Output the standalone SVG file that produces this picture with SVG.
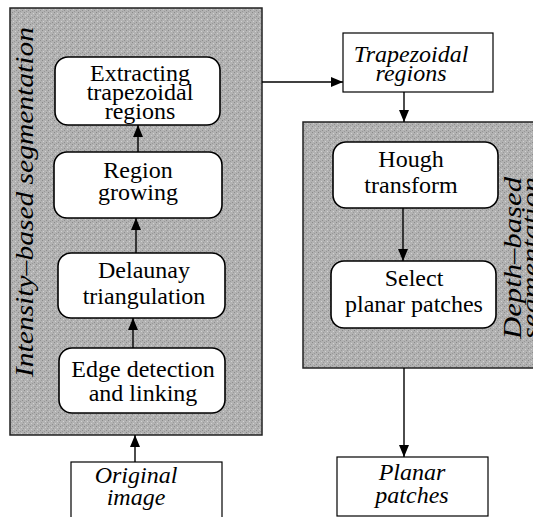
<svg xmlns="http://www.w3.org/2000/svg" width="533" height="517" viewBox="0 0 533 517">
  <defs>
    <pattern id="tex" width="6" height="6" patternUnits="userSpaceOnUse">
      <rect width="6" height="6" fill="#b2b2b2"/>
      <rect x="0" y="0" width="1" height="1" fill="#8a8a8a"/>
      <rect x="3" y="1" width="1" height="1" fill="#d2d2d2"/>
      <rect x="1" y="3" width="1" height="1" fill="#d0d0d0"/>
      <rect x="4" y="4" width="1" height="1" fill="#8e8e8e"/>
      <rect x="2" y="5" width="1" height="1" fill="#999"/>
      <rect x="5" y="2" width="1" height="1" fill="#9a9a9a"/>
    </pattern>
    <marker id="ah" viewBox="0 0 12 10" refX="12" refY="5" markerWidth="12" markerHeight="10" markerUnits="userSpaceOnUse" orient="auto">
      <path d="M0,0 L12,5 L0,10 Z" fill="#000"/>
    </marker>
  </defs>
  <style>
    .panel { fill: url(#tex); stroke: #222; stroke-width: 1.5; }
    .rbox { fill: #fff; stroke: #000; stroke-width: 1.6; }
    .sbox { fill: #fff; stroke: #000; stroke-width: 1.2; }
    text { font-family: 'Liberation Serif', 'Times New Roman', Times, serif; fill: #000; text-anchor: middle; }
    .t { font-size: 24px; }
    .it { font-size: 24px; font-style: italic; }
    .vt { font-size: 26px; font-style: italic; }
    .edge { stroke: #000; stroke-width: 1.4; fill: none; marker-end: url(#ah); }
  </style>

  <g id="panel-intensity">
    <rect class="panel" x="10" y="8" width="252" height="427"/>
    <text class="vt" transform="translate(33,202) rotate(-90)" textLength="350" lengthAdjust="spacingAndGlyphs">Intensity–based segmentation</text>
  </g>
  <g id="panel-depth">
    <rect class="panel" x="303" y="122" width="235" height="246"/>
    <text class="vt" transform="translate(521,258) rotate(-90)" textLength="162" lengthAdjust="spacingAndGlyphs">Depth–based</text>
    <text class="vt" transform="translate(539,258) rotate(-90)" textLength="162" lengthAdjust="spacingAndGlyphs">segmentation</text>
  </g>

  <g id="connectors">
    <line class="edge" x1="262" y1="82" x2="343" y2="82"/>
    <line class="edge" x1="138" y1="152" x2="138" y2="125"/>
    <line class="edge" x1="136" y1="253" x2="136" y2="218"/>
    <line class="edge" x1="133" y1="348" x2="133" y2="318"/>
    <line class="edge" x1="135" y1="462" x2="135" y2="435"/>
    <line class="edge" x1="404" y1="92" x2="404" y2="122"/>
    <line class="edge" x1="403" y1="208" x2="403" y2="261"/>
    <line class="edge" x1="404" y1="368" x2="404" y2="457"/>
  </g>

  <g id="extracting">
    <rect class="rbox" x="55" y="57" width="165" height="68" rx="13"/>
    <text class="t" x="140" y="81">Extracting</text>
    <text class="t" x="140" y="100">trapezoidal</text>
    <text class="t" x="140" y="119">regions</text>
  </g>
  <g id="region-growing">
    <rect class="rbox" x="54" y="152" width="168" height="66" rx="13"/>
    <text class="t" x="138" y="178">Region</text>
    <text class="t" x="138" y="200">growing</text>
  </g>
  <g id="delaunay">
    <rect class="rbox" x="58" y="253" width="167" height="65" rx="13"/>
    <text class="t" x="144" y="278">Delaunay</text>
    <text class="t" x="144" y="304">triangulation</text>
  </g>
  <g id="edge-detection">
    <rect class="rbox" x="59" y="348" width="166" height="65" rx="13"/>
    <text class="t" x="143" y="377">Edge detection</text>
    <text class="t" x="143" y="401">and linking</text>
  </g>
  <g id="original-image">
    <rect class="sbox" x="71" y="462" width="151" height="60"/>
    <text class="it" x="136" y="483">Original</text>
    <text class="it" x="136" y="505">image</text>
  </g>
  <g id="trapezoidal-regions">
    <rect class="sbox" x="343" y="33" width="150" height="59"/>
    <text class="it" x="411" y="62">Trapezoidal</text>
    <text class="it" x="411" y="81">regions</text>
  </g>
  <g id="hough">
    <rect class="rbox" x="333" y="142" width="165" height="66" rx="13"/>
    <text class="t" x="411" y="167">Hough</text>
    <text class="t" x="411" y="193">transform</text>
  </g>
  <g id="select-planar">
    <rect class="rbox" x="331" y="261" width="165" height="67" rx="13"/>
    <text class="t" x="414" y="286">Select</text>
    <text class="t" x="414" y="312">planar patches</text>
  </g>
  <g id="planar-patches">
    <rect class="sbox" x="337" y="457" width="151" height="59"/>
    <text class="it" x="412" y="480">Planar</text>
    <text class="it" x="412" y="503">patches</text>
  </g>
</svg>
